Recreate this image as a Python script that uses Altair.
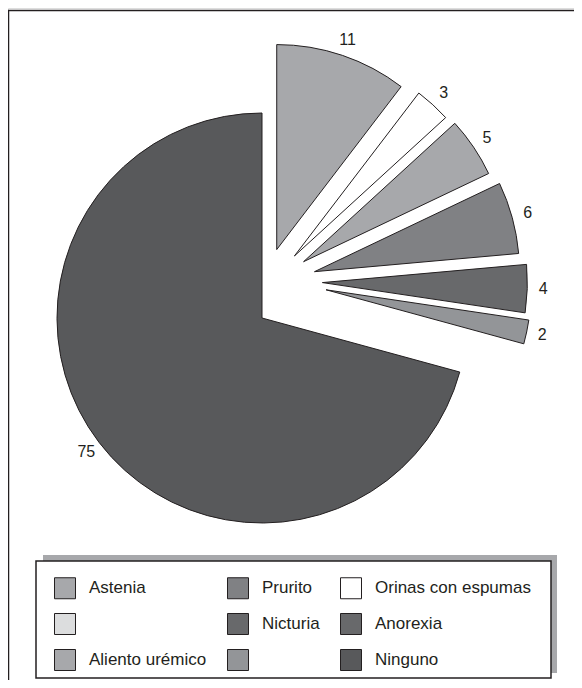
import altair as alt
import pandas as pd

# ---- data ----
slice_cats = ["Astenia", "Orinas con espumas", "Aliento urémico", "Prurito",
              "Nicturia", "  ", "Ninguno"]
slice_vals = [11, 3, 5, 6, 4, 2, 75]

legend_order = ["Astenia", " ", "Aliento urémico",
                "Prurito", "Nicturia", "  ",
                "Orinas con espumas", "Anorexia", "Ninguno"]
legend_colors = ["#a7a8ab", "#dcddde", "#a7a8ab",
                 "#808184", "#68696b", "#939598",
                 "#ffffff", "#68696b", "#58595b"]

df = pd.DataFrame({"cat": slice_cats, "value": slice_vals,
                   "order": list(range(len(slice_cats)))})

W, H = 566, 672
CX, CY = 254, 310
R = 205
EXPLODE = 70
INK = "#231f20"
FONT = "Liberation Sans"

base = (
    alt.Chart(df)
    .transform_window(cum="sum(value)", sort=[alt.SortField("order")], frame=[None, 0])
    .transform_joinaggregate(total="sum(value)")
    .transform_calculate(
        start="(datum.cum - datum.value) / datum.total * 2 * PI",
        end="datum.cum / datum.total * 2 * PI",
    )
    .transform_calculate(mid="(datum.start + datum.end) / 2")
    .transform_calculate(
        dist=f"datum.cat == 'Ninguno' ? 0 : {EXPLODE}",
        dir="datum.mid * 0.65",
    )
    .transform_calculate(
        cx=f"{CX} + datum.dist * sin(datum.dir)",
        cy=f"{CY} - datum.dist * cos(datum.dir)",
    )
)

arcs = base.mark_arc(radius=R, stroke=INK, strokeWidth=1).encode(
    x=alt.X("cx:Q", scale=None, axis=None),
    y=alt.Y("cy:Q", scale=None, axis=None),
    theta=alt.Theta("start:Q", scale=None),
    theta2="end:Q",
    fill=alt.Fill(
        "cat:N",
        scale=alt.Scale(domain=legend_order, range=legend_colors),
        legend=alt.Legend(
            title=None, orient="none", legendX=46, legendY=569,
            columns=3, columnPadding=18, rowPadding=10, padding=0,
            symbolType="square", symbolSize=441, symbolStrokeColor=INK,
            symbolStrokeWidth=1, symbolOpacity=1, labelOffset=13,
            labelFont=FONT, labelFontSize=17, labelColor=INK, labelLimit=300,
        ),
    ),
)

labels = base.mark_text(radius=221, font=FONT, fontSize=16, color=INK,
                        align="center", baseline="middle").encode(
    x=alt.X("cx:Q", scale=None, axis=None),
    y=alt.Y("cy:Q", scale=None, axis=None),
    theta=alt.Theta("mid:Q", scale=None),
    text=alt.Text("value:Q"),
)

one = alt.Data(values=[{"k": 1}])

frame = alt.Chart(one).mark_rect(fill=None, stroke=INK, strokeWidth=1.5).encode(
    x=alt.value(0.5), x2=alt.value(W + 40), y=alt.value(2.5), y2=alt.value(H + 40)
)
shadow = alt.Chart(one).mark_rect(fill="#a7a8ab").encode(
    x=alt.value(35), x2=alt.value(549), y=alt.value(547), y2=alt.value(665)
)
box = alt.Chart(one).mark_rect(fill="#ffffff", stroke=INK, strokeWidth=1.5).encode(
    x=alt.value(28), x2=alt.value(543), y=alt.value(553), y2=alt.value(670)
)

chart = (
    alt.layer(frame, arcs, labels, shadow, box)
    .properties(width=W, height=H, autosize=alt.AutoSizeParams(type="none"), padding=0)
    .configure_view(stroke=None)
    .configure(background="white")
)

chart.save("out.html", embed_options={"renderer": "svg", "actions": False})
